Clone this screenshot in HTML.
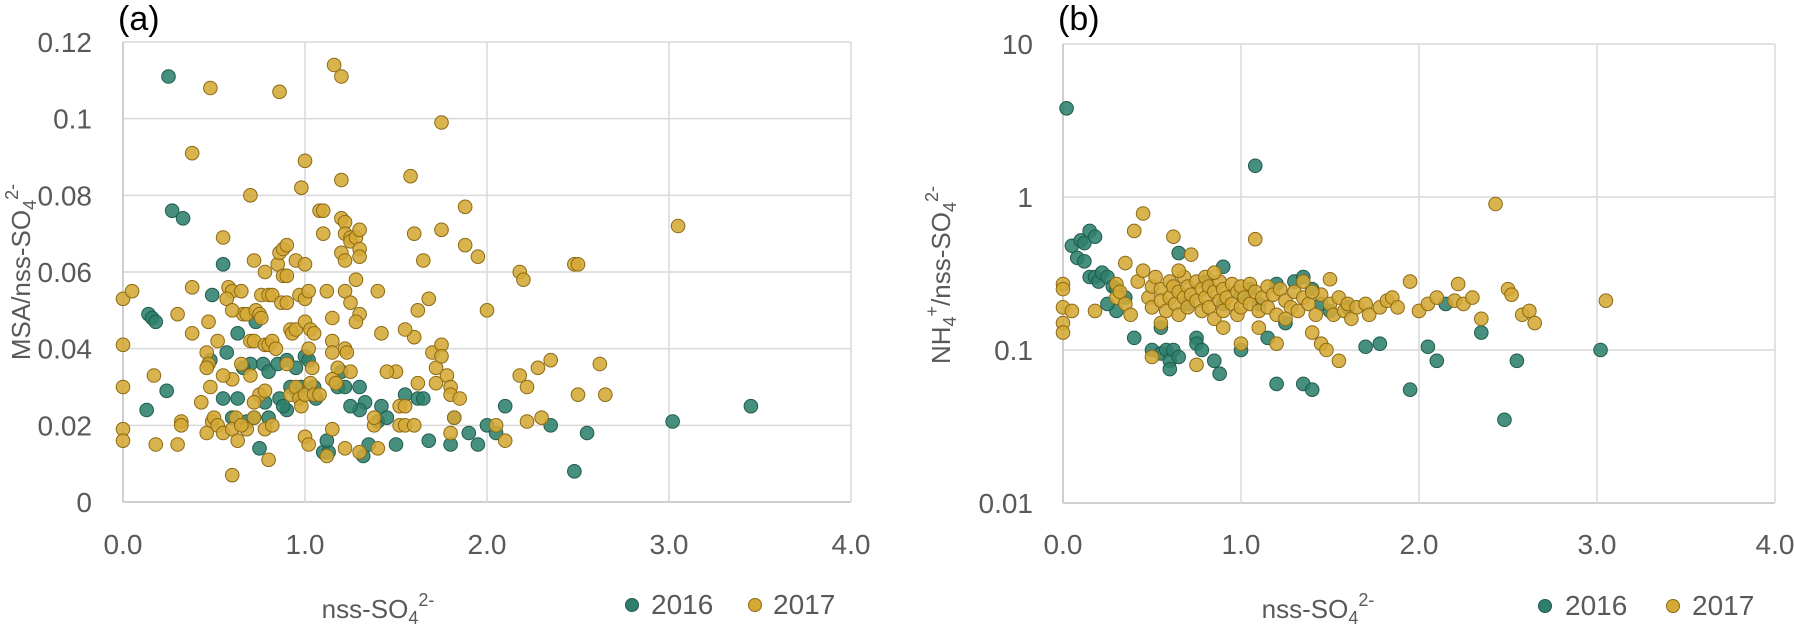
<!DOCTYPE html>
<html><head><meta charset="utf-8">
<style>
html,body{margin:0;padding:0;background:#fff;}
svg{display:block;font-family:"Liberation Sans",sans-serif;}
</style></head>
<body>
<svg id="chart" width="1794" height="629" viewBox="0 0 1794 629" xmlns="http://www.w3.org/2000/svg">
<g id="pa"></g>
<g id="pb"></g>
</svg>
<script>
// ---- Panel (a) data: x = nss-SO4, y = MSA/nss-SO4
const aX16=[0.25,0.27,0.33,0.14,0.16,0.18,0.13,0.24,0.55,0.49,0.63,0.57,0.48,0.73,0.7,0.77,0.8,0.85,0.9,0.95,1.0,1.02,0.98,0.96,0.86,0.8,0.75,0.72,0.68,0.55,0.63,0.9,0.88,1.06,1.1,1.13,1.18,1.2,1.22,1.3,1.33,1.3,1.32,1.35,1.4,1.42,1.45,1.5,1.62,1.65,1.68,1.8,1.82,1.95,2.0,2.1,2.35,2.48,2.55,3.02,3.45,1.25,1.55,1.9,2.05,1.12,0.92,1.05,0.6,0.66,0.78];
const aY16=[0.111,0.076,0.074,0.049,0.048,0.047,0.024,0.029,0.062,0.054,0.044,0.039,0.037,0.047,0.036,0.036,0.034,0.036,0.037,0.035,0.038,0.037,0.03,0.028,0.027,0.022,0.014,0.022,0.021,0.027,0.027,0.024,0.025,0.027,0.013,0.013,0.03,0.034,0.03,0.03,0.026,0.024,0.012,0.015,0.021,0.025,0.022,0.015,0.027,0.027,0.016,0.015,0.022,0.015,0.02,0.025,0.02,0.008,0.018,0.021,0.025,0.025,0.028,0.018,0.018,0.016,0.03,0.03,0.022,0.035,0.026];
const aX17=[0,0.05,0,0,0,0,0.17,0.18,0.3,0.3,0.32,0.32,0.38,0.38,0.38,0.48,0.43,0.47,0.52,0.46,0.47,0.49,0.46,0.5,0.46,0.48,0.55,0.58,0.6,0.57,0.6,0.55,0.52,0.55,0.6,0.62,0.6,0.65,0.66,0.68,0.7,0.72,0.7,0.72,0.73,0.76,0.75,0.76,0.78,0.8,0.82,0.78,0.8,0.82,0.84,0.7,0.75,0.78,0.72,0.72,0.68,0.65,0.63,0.78,0.8,0.82,0.86,0.85,0.86,0.88,0.9,0.88,0.9,0.87,0.9,0.92,0.93,0.95,0.9,0.92,0.95,0.97,0.98,1.0,0.98,1.0,0.95,1.0,0.97,1.0,1.02,1.0,1.03,1.05,1.02,1.04,1.03,1.05,1.08,1.0,1.02,1.08,1.1,1.1,1.12,1.15,1.15,1.15,1.18,1.15,1.17,1.12,1.15,1.16,1.2,1.2,1.2,1.22,1.22,1.25,1.25,1.2,1.22,1.28,1.3,1.3,1.3,1.28,1.22,1.25,1.3,1.28,1.22,1.23,1.25,1.22,1.3,1.38,1.4,1.38,1.4,1.42,1.5,1.52,1.55,1.52,1.55,1.6,1.58,1.6,1.62,1.6,1.65,1.68,1.7,1.72,1.72,1.75,1.75,1.75,1.75,1.78,1.8,1.8,1.82,1.85,1.88,1.88,1.8,1.95,2.0,2.05,2.1,2.18,2.2,2.18,2.22,2.22,2.28,2.3,2.35,2.48,2.5,2.5,2.62,2.65,3.05,1.55,1.62,0.6,0.65,1.45];
const aY17=[0.053,0.055,0.041,0.03,0.019,0.016,0.033,0.015,0.049,0.015,0.021,0.02,0.044,0.056,0.091,0.108,0.026,0.047,0.042,0.039,0.036,0.021,0.018,0.022,0.035,0.03,0.069,0.056,0.055,0.053,0.032,0.033,0.02,0.018,0.007,0.022,0.019,0.055,0.049,0.049,0.08,0.063,0.042,0.042,0.05,0.054,0.049,0.048,0.06,0.054,0.054,0.041,0.041,0.042,0.04,0.033,0.028,0.029,0.026,0.022,0.019,0.02,0.016,0.019,0.011,0.02,0.107,0.062,0.065,0.066,0.067,0.059,0.059,0.052,0.052,0.045,0.044,0.045,0.036,0.028,0.03,0.027,0.025,0.028,0.082,0.089,0.063,0.062,0.054,0.053,0.055,0.047,0.045,0.044,0.04,0.035,0.031,0.028,0.028,0.017,0.015,0.076,0.076,0.07,0.055,0.048,0.042,0.039,0.035,0.032,0.031,0.012,0.019,0.114,0.111,0.084,0.074,0.073,0.07,0.069,0.068,0.065,0.063,0.069,0.071,0.066,0.064,0.058,0.055,0.052,0.049,0.047,0.04,0.039,0.034,0.014,0.013,0.02,0.014,0.022,0.055,0.044,0.034,0.025,0.025,0.02,0.02,0.02,0.085,0.07,0.05,0.043,0.063,0.053,0.039,0.035,0.031,0.099,0.071,0.041,0.038,0.033,0.03,0.028,0.022,0.027,0.067,0.077,0.018,0.064,0.05,0.02,0.016,0.06,0.058,0.033,0.03,0.021,0.035,0.022,0.037,0.062,0.062,0.028,0.036,0.028,0.072,0.045,0.031,0.05,0.036,0.034];
const aYTicks=[0,0.02,0.04,0.06,0.08,0.1,0.12];
const aYLabels=["0","0.02","0.04","0.06","0.08","0.1","0.12"];
const xTicks=[0,1,2,3,4];
const xLabels=["0.0","1.0","2.0","3.0","4.0"];

// ---- Panel (b) data: x = nss-SO4, y = NH4/nss-SO4 (log)
const bX16=[0.02,1.08,0.05,0.1,0.12,0.15,0.18,0.08,0.12,0.15,0.18,0.2,0.22,0.25,0.28,0.3,0.35,0.3,0.25,0.4,0.5,0.55,0.58,0.6,0.62,0.65,0.6,0.75,0.75,0.78,0.88,0.85,1.0,0.9,1.0,1.1,1.15,1.2,1.3,1.35,1.35,1.4,1.45,1.5,1.6,1.7,1.78,1.95,2.05,2.1,2.15,2.35,2.48,2.55,3.02,0.65,0.8,1.05,1.2,1.4,0.55,1.25,0.7,0.9];
const bY16=[3.8,1.6,0.48,0.52,0.5,0.6,0.55,0.4,0.38,0.3,0.3,0.28,0.32,0.3,0.26,0.25,0.22,0.18,0.2,0.12,0.1,0.095,0.1,0.085,0.1,0.09,0.075,0.12,0.11,0.1,0.07,0.085,0.1,0.35,0.23,0.2,0.12,0.06,0.28,0.3,0.06,0.055,0.2,0.18,0.19,0.105,0.11,0.055,0.105,0.085,0.2,0.13,0.035,0.085,0.1,0.43,0.28,0.25,0.27,0.25,0.14,0.15,0.2,0.2];
const bX17=[0,0,0,0,0,0.05,0.18,0.3,0.3,0.32,0.35,0.35,0.38,0.4,0.42,0.45,0.45,0.48,0.5,0.5,0.52,0.55,0.55,0.58,0.6,0.6,0.62,0.62,0.63,0.65,0.65,0.68,0.68,0.7,0.7,0.72,0.72,0.75,0.75,0.78,0.78,0.8,0.8,0.82,0.82,0.85,0.85,0.88,0.88,0.9,0.9,0.92,0.95,0.95,0.98,0.98,1.0,1.0,1.02,1.05,1.05,1.08,1.08,1.1,1.12,1.15,1.15,1.18,1.2,1.22,1.25,1.28,1.3,1.32,1.35,1.38,1.4,1.42,1.45,1.45,1.48,1.5,1.5,1.52,1.55,1.55,1.58,1.6,1.62,1.65,1.7,1.72,1.78,1.82,1.85,1.88,1.95,2.0,2.05,2.1,2.2,2.22,2.25,2.3,2.35,2.43,2.5,2.52,2.58,2.62,2.65,3.05,1.35,0.55,0.5,0.75,1.0,0.9,1.1,1.2,0.85,0.65,1.25,1.4];
const bY17=[0.27,0.25,0.19,0.15,0.13,0.18,0.18,0.27,0.22,0.24,0.37,0.2,0.17,0.6,0.28,0.78,0.33,0.22,0.26,0.19,0.3,0.25,0.21,0.18,0.28,0.22,0.55,0.26,0.2,0.24,0.17,0.3,0.22,0.26,0.19,0.42,0.23,0.28,0.21,0.25,0.18,0.3,0.22,0.26,0.19,0.24,0.16,0.28,0.21,0.25,0.18,0.22,0.27,0.2,0.24,0.17,0.26,0.19,0.22,0.27,0.2,0.53,0.24,0.18,0.22,0.26,0.19,0.23,0.17,0.25,0.21,0.19,0.24,0.18,0.22,0.2,0.13,0.17,0.23,0.11,0.1,0.2,0.29,0.17,0.085,0.22,0.18,0.2,0.16,0.19,0.2,0.17,0.19,0.21,0.22,0.19,0.28,0.18,0.2,0.22,0.21,0.27,0.2,0.22,0.16,0.9,0.25,0.23,0.17,0.18,0.15,0.21,0.28,0.15,0.09,0.08,0.11,0.14,0.14,0.11,0.32,0.33,0.16,0.24];
const bYTicks=[0.01,0.1,1,10];
const bYLabels=["0.01","0.1","1","10"];

const NS="http://www.w3.org/2000/svg";
function mk(parent,tag,attrs){const e=document.createElementNS(NS,tag);for(const k in attrs)e.setAttribute(k,attrs[k]);parent.appendChild(e);return e;}
const C16={fill:"#2e7f6c",stroke:"#1f5c4c"}, C17={fill:"#d4a935",stroke:"#8c6a14"};

function panel(g,o){
  const xs=v=>o.x0+(v-0)*(o.x1-o.x0)/4;
  const ys=o.log?(v=>o.yb+(Math.log10(v)-(-2))*(o.yt-o.yb)/3):(v=>o.yb+v*(o.yt-o.yb)/0.12);
  o.yTicks.forEach((t,i)=>{
    const y=ys(t);
    const l=mk(g,"line",{x1:o.x0,x2:o.x1,y1:y,y2:y,stroke:i===0?"#bfbfbf":"#d9d9d9","stroke-width":1.5});
    
    
    const tx=mk(g,"text",{x:o.labR,y:y+10,"text-anchor":"end","font-size":28,fill:"#595959"});
    tx.textContent=o.yLabels[i];
    
    
  });
  xTicks.forEach((t,i)=>{
    const x=xs(t);
    const l=mk(g,"line",{x1:x,x2:x,y1:o.yt,y2:o.yb,stroke:i===0?"#bfbfbf":"#d9d9d9","stroke-width":1.5});
    
    
    const tx=mk(g,"text",{x:x,y:554,"text-anchor":"middle","font-size":28,fill:"#595959"});
    tx.textContent=xLabels[i];
    
    
  });
  function series(X,Y,c,name){
    const sg=mk(g,"g",{});
    
    
    X.forEach((v,i)=>{
      const p=mk(sg,"circle",{cx:xs(v),cy:ys(Y[i]),r:6.8,fill:c.fill,"fill-opacity":0.88,stroke:c.stroke,"stroke-width":1});
      
      
    });
  }
  series(o.X16,o.Y16,C16,"series-2016");
  series(o.X17,o.Y17,C17,"series-2017");
}

const pa=document.getElementById("pa"), pb=document.getElementById("pb");
panel(pa,{x0:123,x1:851,yt:42,yb:502,log:false,yTicks:aYTicks,yLabels:aYLabels,labR:92,X16:aX16,Y16:aY16,X17:aX17,Y17:aY17});
panel(pb,{x0:1063,x1:1775,yt:44,yb:503,log:true,yTicks:bYTicks,yLabels:bYLabels,labR:1033,X16:bX16,Y16:bY16,X17:bX17,Y17:bY17});
</script>
<svg style="position:absolute;left:0;top:0" width="1794" height="629" xmlns="http://www.w3.org/2000/svg" font-family="Liberation Sans, sans-serif">
  <text x="118" y="30" font-size="34" fill="#000">(a)</text>
  <text x="1058" y="30" font-size="34" fill="#000">(b)</text>
  <text transform="translate(30,272) rotate(-90)" text-anchor="middle" font-size="26" fill="#595959">MSA/nss-SO<tspan font-size="18" dy="6">4</tspan><tspan font-size="18" dy="-18">2-</tspan></text>
  <text transform="translate(950,275) rotate(-90)" text-anchor="middle" font-size="26" fill="#595959">NH<tspan font-size="18" dy="6">4</tspan><tspan font-size="18" dy="-18">+</tspan><tspan dy="12">/nss-SO</tspan><tspan font-size="18" dy="6">4</tspan><tspan font-size="18" dy="-18">2-</tspan></text>
  <text x="378" y="618" text-anchor="middle" font-size="26" fill="#595959">nss-SO<tspan font-size="18" dy="6">4</tspan><tspan font-size="18" dy="-18">2-</tspan></text>
  <text x="1318" y="618" text-anchor="middle" font-size="26" fill="#595959">nss-SO<tspan font-size="18" dy="6">4</tspan><tspan font-size="18" dy="-18">2-</tspan></text>
  <g>
    <circle cx="632" cy="605" r="6.5" fill="#2e7f6c" stroke="#1f5c4c"/>
    <text x="651" y="614" font-size="28" fill="#595959">2016</text>
    <circle cx="755" cy="605" r="6.5" fill="#d4a935" stroke="#8c6a14"/>
    <text x="773" y="614" font-size="28" fill="#595959">2017</text>
  </g>
  <g>
    <circle cx="1545" cy="606" r="6.5" fill="#2e7f6c" stroke="#1f5c4c"/>
    <text x="1565" y="615" font-size="28" fill="#595959">2016</text>
    <circle cx="1673" cy="606" r="6.5" fill="#d4a935" stroke="#8c6a14"/>
    <text x="1692" y="615" font-size="28" fill="#595959">2017</text>
  </g>
</svg>
</body></html>
